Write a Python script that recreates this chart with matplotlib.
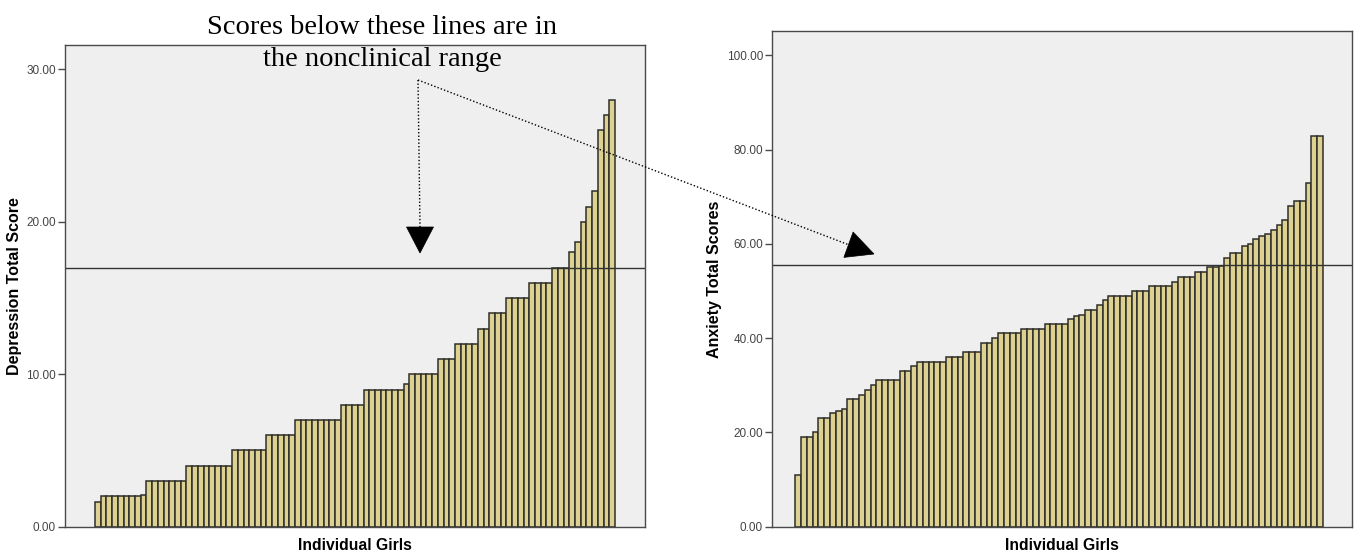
import matplotlib.pyplot as plt
from matplotlib.lines import Line2D
from matplotlib.patches import Polygon

# Depression total score per girl (sorted, 91 girls)
depression = [1.6, 2, 2, 2, 2, 2, 2, 2, 2.1,
              3, 3, 3, 3, 3, 3, 3,
              4, 4, 4, 4, 4, 4, 4, 4,
              5, 5, 5, 5, 5, 5,
              6, 6, 6, 6, 6,
              7, 7, 7, 7, 7, 7, 7, 7,
              8, 8, 8, 8,
              9, 9, 9, 9, 9, 9, 9, 9.35,
              10, 10, 10, 10, 10,
              11, 11, 11,
              12, 12, 12, 12,
              13, 13,
              14, 14, 14,
              15, 15, 15, 15,
              16, 16, 16, 16,
              17, 17, 17,
              18, 18.7, 20, 21, 22, 26, 27, 28]

# Anxiety total scores per girl (sorted, 91 girls)
anxiety = [11, 19, 19, 20, 23, 23, 24, 24.6, 25, 27, 27, 28, 29, 30,
           31, 31, 31, 31, 33, 33, 34, 35, 35, 35, 35, 35, 36, 36, 36,
           37, 37, 37, 39, 39, 40, 41, 41, 41, 41, 42, 42, 42, 42,
           43, 43, 43, 43, 44, 44.6, 45, 46, 46, 47, 48, 49, 49, 49, 49,
           50, 50, 50, 51, 51, 51, 51, 52, 53, 53, 53, 54, 54, 55, 55,
           55.4, 57, 58, 58, 59.6, 60, 61, 61.6, 62, 63, 64, 65, 68,
           69, 69, 73, 83, 83]

dep_cutoff = 17
anx_cutoff = 55.5
dep_ticks = [0, 10, 20, 30]
anx_ticks = [0, 20, 40, 60, 80, 100]

W, H = 1360, 554
fig = plt.figure(figsize=(W / 100, H / 100), dpi=100)
plt.rcParams['font.family'] = ['Liberation Sans', 'DejaVu Sans']

bar_color = '#dcd190'
edge_color = '#2e2e2a'
spine_color = '#4a4a4a'


def panel(rect, values, cutoff, ticks, ylim, xlim, ylabel):
    ax = fig.add_axes(rect)
    ax.set_facecolor('#efefef')
    ax.bar(range(len(values)), values, width=1.0, color=bar_color,
           edgecolor=edge_color, linewidth=1.1)
    ax.axhline(cutoff, color='#333333', linewidth=1.0)
    ax.set_xlim(*xlim)
    ax.set_ylim(*ylim)
    ax.set_xticks([])
    ax.set_yticks(ticks)
    ax.set_yticklabels(['%.2f' % t for t in ticks], fontsize=8.5, color='#444444')
    ax.tick_params(axis='y', length=5, width=1, color=spine_color, pad=1.5)
    for s in ax.spines.values():
        s.set_color(spine_color)
        s.set_linewidth(1.0)
    ax.set_ylabel(ylabel, fontsize=11.5, fontweight='bold', labelpad=3)
    ax.set_xlabel('Individual Girls', fontsize=11.3, fontweight='bold', labelpad=8)
    return ax


ax1 = panel([65 / W, 1 - 526.7 / H, 580 / W, (526.7 - 45) / H],
            depression, dep_cutoff, dep_ticks, (0, 31.6), (-5.75, 95.75),
            'Depression Total Score')
ax2 = panel([772 / W, 1 - 526.5 / H, 580 / W, (526.5 - 31.4) / H],
            anxiety, anx_cutoff, anx_ticks, (0, 105.1), (-4.5, 95.5),
            'Anxiety Total Scores')

# Annotation text
fig.text(382 / W, 1 - 27 / H, 'Scores below these lines are in',
         family=['Liberation Serif', 'DejaVu Serif'], fontsize=20.5,
         ha='center', va='center')
fig.text(382 / W, 1 - 60 / H, 'the nonclinical range',
         family=['Liberation Serif', 'DejaVu Serif'], fontsize=20.5,
         ha='center', va='center')


def pointer(start, base, tip, half):
    # dotted shaft and filled triangular head, in image pixels (y down)
    sx, sy = start
    bx, by = base
    tx, ty = tip
    fig.add_artist(Line2D([sx, bx], [H - sy, H - by], transform=None,
                          color='black', linewidth=1.0, linestyle=(0, (1, 1.5))))
    dx, dy = tx - bx, ty - by
    n = (dx ** 2 + dy ** 2) ** 0.5
    px, py = -dy / n * half, dx / n * half
    pts = [(tx, H - ty), (bx + px, H - (by + py)), (bx - px, H - (by - py))]
    fig.add_artist(Polygon(pts, closed=True, transform=None,
                           facecolor='black', edgecolor='black', linewidth=0.5))


pointer((418, 80), (420, 227), (420, 253), 13.5)
pointer((418, 80), (848.5, 244.7), (874, 254), 13.5)

plt.savefig('out.png', dpi=100)
